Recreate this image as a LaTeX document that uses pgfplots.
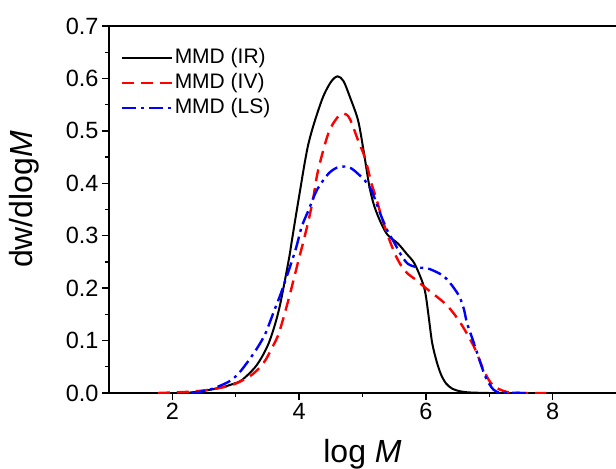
\documentclass[border=0pt]{standalone}
\usepackage{fontspec}
\setmainfont{Liberation Sans}
\usepackage{pgfplots}
\pgfplotsset{compat=1.18}
\newcommand{\legfont}{\fontsize{21}{25}\selectfont}

\begin{document}
\begin{tikzpicture}
\begin{axis}[
    name=ax,
    scale only axis,
    width=507pt, height=367pt,
    xmin=1, xmax=9,
    ymin=0, ymax=0.7,
    axis x line*=box,
    axis y line*=left,
    y axis line style={-},
    axis line style={line width=1.3pt},
    every tick/.style={line width=1.3pt, black},
    tick align=outside,
    xtick pos=bottom, ytick pos=left,
    major tick length=7pt, minor tick length=4pt,
    xtick={2,4,6,8},
    ytick={0,0.1,0.2,0.3,0.4,0.5,0.6,0.7},
    minor x tick num=1, minor y tick num=1,
    /pgf/number format/assume math mode=true,
    tick label style={font=\fontsize{23.5}{28}\selectfont},
    yticklabel style={/pgf/number format/.cd, fixed, fixed zerofill, precision=1},
    xlabel={log \textit{M}},
    ylabel={dw/dlog\textit{M}},
    label style={font=\fontsize{32}{36}\selectfont},
    xlabel style={at={(axis description cs:0.5,0)}, anchor=base, yshift=-69pt},
    ylabel style={at={(axis description cs:0,0.5)}, anchor=base, xshift=10pt, yshift=76pt},
    legend style={draw=none, fill=none, at={(0.022,0.947)}, anchor=north west,
        font=\legfont, inner sep=0pt, row sep=0pt,
        nodes={text height=16pt, text depth=5pt, inner sep=2pt}},
    legend cell align=left,
    legend image code/.code={\draw[#1] (0pt,0pt) -- (50pt,0pt);},
]
\addplot[black, line width=2pt, smooth, tension=0.5] coordinates {
(2.2,0)(2.43,0.003)(2.74,0.0095)(2.95,0.017)(3.10,0.025)(3.33,0.053)(3.52,0.095)
(3.68,0.158)(3.835,0.253)(3.886,0.291)(3.99,0.368)(4.148,0.476)(4.356,0.558)
(4.5,0.593)(4.607,0.604)(4.7,0.595)(4.8,0.565)(4.93,0.52)(5.02,0.46)(5.11,0.393)
(5.19,0.355)(5.30,0.322)(5.40,0.301)(5.56,0.285)(5.70,0.265)(5.82,0.247)(5.95,0.21)
(6.0,0.185)(6.05,0.14)(6.1,0.095)(6.17,0.06)(6.24,0.035)(6.32,0.018)(6.42,0.008)
(6.55,0.003)(6.7,0.001)(7.0,0)(7.3,0)
};
\addlegendentry{\legfont MMD (IR)}
\addplot[red, line width=2.4pt, dash pattern=on 12pt off 7pt, smooth, tension=0.5] coordinates {
(1.77,0)(2.2,0.002)(2.5,0.005)(2.84,0.012)(3.0,0.018)(3.21,0.031)(3.35,0.045)
(3.47,0.063)(3.58,0.088)(3.68,0.114)(3.83,0.177)(3.99,0.253)(4.07,0.29)(4.15,0.33)
(4.22,0.37)(4.30,0.425)(4.46,0.495)(4.6,0.525)(4.71,0.533)(4.8,0.523)(4.93,0.482)
(5.02,0.455)(5.08,0.43)(5.14,0.40)(5.22,0.37)(5.30,0.336)(5.40,0.30)(5.51,0.266)
(5.6,0.245)(5.71,0.228)(5.82,0.218)(6.0,0.2)(6.18,0.183)(6.35,0.165)(6.55,0.133)
(6.76,0.088)(6.91,0.044)(7.02,0.02)(7.12,0.0095)(7.28,0.002)(7.5,0)(7.9,0)
};
\addlegendentry{\legfont MMD (IV)}
\addplot[blue, line width=2.4pt, dash pattern=on 14pt off 5pt on 3pt off 5pt, smooth, tension=0.5] coordinates {
(2.3,0)(2.58,0.006)(2.89,0.0216)(3.05,0.038)(3.21,0.063)(3.35,0.088)(3.47,0.114)
(3.6,0.155)(3.73,0.196)(3.94,0.272)(4.04,0.317)(4.15,0.349)(4.28,0.387)(4.46,0.418)
(4.6,0.43)(4.73,0.432)(4.83,0.428)(4.93,0.418)(5.04,0.405)(5.14,0.387)(5.22,0.362)
(5.30,0.336)(5.40,0.308)(5.51,0.285)(5.60,0.265)(5.71,0.247)(5.85,0.24)(6.03,0.2375)
(6.18,0.23)(6.29,0.222)(6.40,0.207)(6.50,0.19)(6.55,0.178)(6.60,0.16)(6.65,0.133)
(6.73,0.105)(6.81,0.076)(6.94,0.031)(7.07,0.006)(7.2,0.001)(7.6,0)
};
\addlegendentry{\legfont MMD (LS)}
\end{axis}
\pgfresetboundingbox
\path ([xshift=-109pt,yshift=-75pt]ax.south west) rectangle ([yshift=26pt]ax.north east);
\end{tikzpicture}
\end{document}
